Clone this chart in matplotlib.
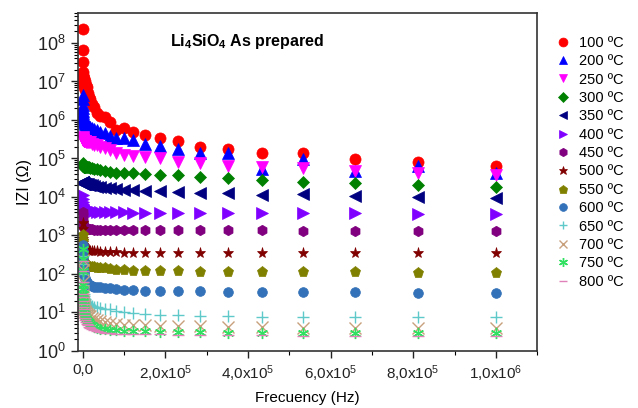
import numpy as np
import matplotlib
matplotlib.use("Agg")
import matplotlib.pyplot as plt
from matplotlib.ticker import FixedLocator, FixedFormatter, LogLocator, LogFormatterSciNotation, NullFormatter

plt.rcParams['font.family'] = ['Liberation Sans', 'DejaVu Sans']
plt.rcParams['mathtext.fontset'] = 'custom'
plt.rcParams['mathtext.rm'] = 'Liberation Sans'
plt.rcParams['mathtext.it'] = 'Liberation Sans:italic'
plt.rcParams['mathtext.bf'] = 'Liberation Sans:bold'

# frequency (Hz)
freq = [100, 200, 500, 1.0e3, 1.2e3, 1.5e3, 1.9e3, 2.3e3, 2.8e3, 3.5e3, 4.3e3, 5.3e3, 6.6e3,
        8.1e3, 1.0e4, 1.23e4, 1.52e4, 1.87e4, 2.31e4, 2.85e4, 3.51e4, 4.33e4, 5.34e4, 6.58e4,
        8.11e4, 1.0e5, 1.23e5, 1.52e5, 1.87e5, 2.31e5, 2.85e5, 3.51e5, 4.33e5, 5.34e5, 6.58e5,
        8.11e5, 1.0e6]

# |Z| (ohm) for each temperature
z100 = [2.3e8, 6.6e7, 3.3e7, 1.8e7, 1.4e7, 1.1e7, 9.0e6, 1.5e7, 8.0e6, 1.2e7, 7.0e6, 1.0e7, 6.0e6,
        8.0e6, 7.0e6, 5.0e6, 4.0e6, 3.5e6, 2.6e6, 2.2e6, 1.5e6, 1.3e6, 1.2e6, 9.0e5, 5.5e5, 6.2e5,
        4.9e5, 4.1e5, 3.4e5, 2.8e5, 2.0e5, 1.8e5, 1.4e5, 1.4e5, 9.5e4, 8.0e4, 6.5e4]
z200 = [4.5e6, 3.5e6, 2.5e6, 2.0e6, 1.7e6, 1.5e6, 1.3e6, 1.2e6, 1.1e6, 1.0e6, 9.0e5, 8.5e5, 8.0e5,
        7.5e5, 7.2e5, 7.0e5, 6.8e5, 6.5e5, 6.2e5, 6.0e5, 5.5e5, 5.0e5, 4.5e5, 3.8e5, 3.4e5, 3.4e5,
        3.0e5, 2.4e5, 2.1e5, 1.8e5, 1.4e5, 1.4e5, 5.4e4, 9.5e4, 4.8e4, 6.5e4, 4.2e4]
z250 = [3.6e5, 3.4e5, 3.2e5, 3.1e5, 3.05e5, 3.0e5, 3.0e5, 2.95e5, 2.9e5, 2.9e5, 2.85e5, 2.8e5, 2.8e5,
        2.75e5, 2.7e5, 2.7e5, 2.7e5, 2.6e5, 2.4e5, 2.3e5, 2.2e5, 2.0e5, 1.9e5, 1.66e5, 1.38e5, 1.23e5,
        1.15e5, 1.1e5, 1.02e5, 8.1e4, 7.6e4, 6.5e4, 6.0e4, 5.6e4, 4.8e4, 4.2e4, 3.7e4]
z300 = [7.6e4, 7.2e4, 6.8e4, 6.5e4, 6.4e4, 6.3e4, 6.2e4, 6.2e4, 6.1e4, 6.1e4, 6.0e4, 6.0e4, 6.0e4,
        6.0e4, 6.0e4, 6.0e4, 5.9e4, 5.8e4, 5.6e4, 5.4e4, 5.2e4, 5.0e4, 4.8e4, 4.5e4, 4.3e4, 4.2e4,
        4.2e4, 4.0e4, 3.7e4, 3.7e4, 3.3e4, 3.1e4, 2.75e4, 2.4e4, 2.3e4, 2.05e4, 1.8e4]
z350 = [2.5e4, 2.45e4, 2.4e4, 2.35e4, 2.3e4, 2.3e4, 2.3e4, 2.25e4, 2.25e4, 2.2e4, 2.2e4, 2.2e4, 2.2e4,
        2.2e4, 2.2e4, 2.15e4, 2.1e4, 2.05e4, 2.0e4, 1.9e4, 1.85e4, 1.8e4, 1.75e4, 1.7e4, 1.6e4, 1.5e4,
        1.5e4, 1.45e4, 1.4e4, 1.35e4, 1.26e4, 1.26e4, 1.12e4, 1.2e4, 1.07e4, 1.0e4, 9.3e3]
z400 = [1.1e4, 9.0e3, 7.5e3, 6.5e3, 6.2e3, 6.0e3, 5.8e3, 5.6e3, 5.4e3, 5.3e3, 5.2e3, 5.1e3, 5.0e3,
        5.0e3, 4.9e3, 4.8e3, 4.7e3, 4.6e3, 4.4e3, 4.2e3, 4.15e3, 4.1e3, 4.05e3, 4.0e3, 4.0e3, 3.95e3,
        3.9e3, 3.9e3, 3.85e3, 3.8e3, 3.8e3, 3.8e3, 3.8e3, 3.8e3, 3.8e3, 3.65e3, 3.6e3]
z450 = [4.1e3, 3.3e3, 2.6e3, 2.2e3, 2.05e3, 1.95e3, 1.85e3, 1.8e3, 1.75e3, 1.7e3, 1.65e3, 1.6e3, 1.58e3,
        1.55e3, 1.5e3, 1.5e3, 1.48e3, 1.45e3, 1.43e3, 1.42e3, 1.4e3, 1.4e3, 1.4e3, 1.38e3, 1.38e3, 1.38e3,
        1.37e3, 1.37e3, 1.37e3, 1.36e3, 1.36e3, 1.35e3, 1.35e3, 1.33e3, 1.33e3, 1.32e3, 1.32e3]
z500 = [2.1e3, 1.5e3, 1.0e3, 8.0e2, 7.2e2, 6.5e2, 5.8e2, 5.5e2, 5.2e2, 5.0e2, 4.8e2, 4.6e2, 4.4e2,
        4.3e2, 4.2e2, 4.1e2, 4.05e2, 4.0e2, 3.95e2, 3.9e2, 3.85e2, 3.8e2, 3.75e2, 3.7e2, 3.65e2, 3.6e2,
        3.6e2, 3.6e2, 3.55e2, 3.55e2, 3.55e2, 3.55e2, 3.55e2, 3.5e2, 3.5e2, 3.5e2, 3.5e2]
z550 = [1.0e3, 7.0e2, 5.0e2, 3.5e2, 3.1e2, 2.7e2, 2.4e2, 2.2e2, 2.0e2, 1.9e2, 1.8e2, 1.75e2, 1.7e2,
        1.65e2, 1.6e2, 1.58e2, 1.55e2, 1.52e2, 1.5e2, 1.48e2, 1.45e2, 1.42e2, 1.4e2, 1.35e2, 1.3e2, 1.25e2,
        1.22e2, 1.2e2, 1.2e2, 1.18e2, 1.15e2, 1.15e2, 1.13e2, 1.12e2, 1.1e2, 1.08e2, 1.07e2]
z600 = [5.6e2, 4.0e2, 2.8e2, 2.0e2, 1.8e2, 1.6e2, 1.4e2, 1.3e2, 1.15e2, 1.0e2, 90, 80, 72,
        65, 60, 56, 53, 51, 49, 47, 46, 45, 44, 42, 40, 39,
        38, 37, 36, 36, 35, 34, 33, 33, 33, 32, 32]
z650 = [3.0e2, 1.8e2, 1.0e2, 60, 52, 45, 38, 34, 30, 27, 24, 22, 20,
        19, 18, 17, 16.5, 16, 15, 14, 13.5, 13, 12.5, 12, 11, 10.5,
        9.8, 9.3, 8.7, 8.5, 8.2, 8.0, 7.8, 7.7, 7.6, 7.5, 7.4]
z700 = [2.3e2, 1.3e2, 60, 35, 29, 25, 21, 18, 16, 14, 12.5, 11, 10,
        9.5, 9.0, 8.6, 8.2, 8.0, 7.3, 6.8, 6.5, 6.0, 5.5, 5.2, 5.0, 4.8,
        4.7, 4.6, 4.5, 4.5, 4.4, 4.2, 4.2, 4.0, 4.0, 4.0, 4.0]
z750 = [4.5e2, 2.5e2, 1.2e2, 50, 40, 30, 24, 20, 16, 13, 11, 9.0, 8.0,
        7.2, 6.5, 6.0, 5.5, 5.0, 4.6, 4.3, 4.0, 3.8, 3.6, 3.5, 3.4, 3.3,
        3.2, 3.2, 3.1, 3.1, 3.1, 3.0, 3.0, 3.0, 3.0, 3.0, 3.0]
z800 = [2.2e2, 1.2e2, 60, 30, 25, 20, 17, 14, 12, 10, 8.5, 7.0, 6.2,
        5.5, 5.0, 4.6, 4.3, 4.0, 3.7, 3.5, 3.3, 3.1, 3.0, 2.9, 2.8, 2.8,
        2.7, 2.7, 2.7, 2.6, 2.6, 2.6, 2.6, 2.5, 2.5, 2.5, 2.5]

labels = ['100 ºC', '200 ºC', '250 ºC', '300 ºC', '350 ºC', '400 ºC', '450 ºC',
          '500 ºC', '550 ºC', '600 ºC', '650 ºC', '700 ºC', '750 ºC', '800 ºC']
series = [z100, z200, z250, z300, z350, z400, z450, z500, z550, z600, z650, z700, z750, z800]
colors = ['#ff0000', '#0000ff', '#ff00ff', '#008000', '#000080', '#8000ff', '#800080',
          '#800000', '#808000', '#3371b8', '#5fc8c8', '#c8a07c', '#30e060', '#e080b8']
markers = ['o', '^', 'v', 'D', '<', '>', 'h', '*', 'p', 'o', '+', 'x', (6, 2, 0), '_']
sizes = [8, 8, 8, 6.5, 8, 8, 7.5, 8, 8, 7, 8, 8, 8, 8]

xtick_vals = [0, 2e5, 4e5, 6e5, 8e5, 1e6]
xtick_labels = ['0,0', '2,0x10$^5$', '4,0x10$^5$', '6,0x10$^5$', '8,0x10$^5$', '1,0x10$^6$']

fig = plt.figure(figsize=(6.38, 4.08), dpi=100)
ax = fig.add_axes([0.122, 0.140, 0.720, 0.828])

for z, lab, c, m, s in zip(series, labels, colors, markers, sizes):
    ax.plot(freq, z, linestyle='none', marker=m, color=c, markersize=s,
            markeredgewidth=1.0 if m in ('+', 'x', '_') or isinstance(m, tuple) else 0.5,
            label=lab)

ax.set_yscale('log')
ax.set_xlim(-1.14e4, 1.1e6)
ax.set_ylim(1, 6e8)

ax.xaxis.set_major_locator(FixedLocator(xtick_vals))
ax.xaxis.set_major_formatter(FixedFormatter(xtick_labels))
ax.xaxis.set_minor_locator(FixedLocator([1e5, 3e5, 5e5, 7e5, 9e5, 1.1e6]))
ax.yaxis.set_major_locator(LogLocator(base=10, numticks=20))
ax.yaxis.set_major_formatter(LogFormatterSciNotation())
ax.yaxis.set_minor_locator(LogLocator(base=10, subs=np.arange(2, 10), numticks=20))
ax.yaxis.set_minor_formatter(NullFormatter())

ax.tick_params(which='major', direction='out', length=5, width=1.0, labelsize=13, colors='#222222')
ax.tick_params(which='minor', direction='out', length=3, width=0.8)
ax.tick_params(axis='x', labelsize=11, pad=4)
for sp in ax.spines.values():
    sp.set_linewidth(1.2)
    sp.set_color('#333333')

ax.set_xlabel('Frecuency (Hz)', fontsize=11, labelpad=5)
ax.set_ylabel('IZI (Ω)', fontsize=11.5, labelpad=4)

ax.text(0.2, 0.915, r'Li$_\mathbf{4}$SiO$_\mathbf{4}$ As prepared', transform=ax.transAxes,
        fontsize=11.5, fontweight='bold', va='center', ha='left')

ax.legend(loc='upper left', bbox_to_anchor=(1.025, 0.95), frameon=False, fontsize=10.5,
          handletextpad=0.5, labelspacing=0.3, borderaxespad=0, handlelength=1.2,
          markerscale=0.8)

fig.savefig('out.png', dpi=100)
